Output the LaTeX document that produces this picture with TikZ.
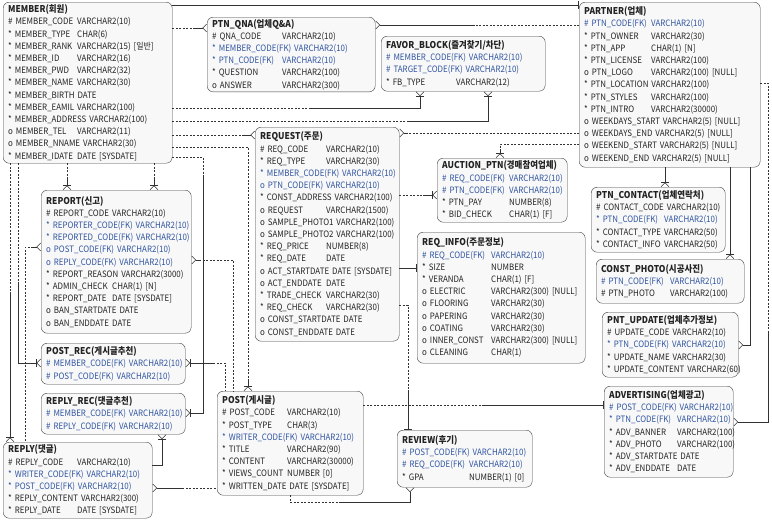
\documentclass[tikz,border=0pt]{standalone}
\usepackage{fontspec}
\setmainfont{Noto Sans CJK KR}[FakeStretch=0.9]
\usetikzlibrary{positioning,arrows.meta}

\definecolor{fkblue}{RGB}{47,84,160}
\definecolor{txtgray}{RGB}{35,35,35}
\definecolor{boxfill}{RGB}{248,248,248}
\definecolor{linegray}{RGB}{50,50,50}

\newlength\tabw
\newlength\fldlen
\newcommand\fld[2]{\mbox{\settowidth{\fldlen}{#1\ }%
  \ifdim\fldlen<\tabw\makebox[\tabw][l]{#1}\else#1\ \fi#2}}
\newcommand\fk[2]{\textcolor{fkblue}{\fld{#1}{#2}}}
\newcommand\tname[1]{{\fontsize{9.4}{12.2}\selectfont\bfseries #1}}

\catcode`\_=12

\begin{document}
\begin{tikzpicture}[x=1pt, y=-1pt,
  tbl/.style={draw=black!75, fill=boxfill, rounded corners=6pt, anchor=north west,
    align=left, inner xsep=5pt, inner ysep=2pt, font=\fontsize{8.8}{12.2}\selectfont, text=txtgray},
  tabcol/.style={execute at begin node={\setlength\tabw{#1}}},
  rel/.style={draw=linegray, line width=0.6pt},
  opt/.style={rel, dash pattern=on 2pt off 1.5pt},
  crow/.style={-{Straight Barb[reversed,length=4pt,width=8pt]}},
  crowbar/.style={-{Bar[width=8pt] Straight Barb[reversed,length=4pt,width=8pt]}},
  one/.style={-{Bar[width=8pt]}}]
\useasboundingbox (0,0) rectangle (772,528);

% tables
\node[tbl, tabcol=69pt, text width=159pt, minimum height=161pt] (member) at (3,2) {\tname{MEMBER(회원)}\\
  \fld{\# MEMBER_CODE}{VARCHAR2(10)}\\
  \fld{* MEMBER_TYPE}{CHAR(6)}\\
  \fld{* MEMBER_RANK}{VARCHAR2(15) [일반]}\\
  \fld{* MEMBER_ID}{VARCHAR2(16)}\\
  \fld{* MEMBER_PWD}{VARCHAR2(32)}\\
  \fld{* MEMBER_NAME}{VARCHAR2(30)}\\
  \fld{* MEMBER_BIRTH}{DATE}\\
  \fld{* MEMBER_EAMIL}{VARCHAR2(100)}\\
  \fld{* MEMBER_ADDRESS}{VARCHAR2(100)}\\
  \fld{o MEMBER_TEL}{VARCHAR2(11)}\\
  \fld{o MEMBER_NNAME}{VARCHAR2(30)}\\
  \fld{* MEMBER_IDATE}{DATE [SYSDATE]}};

\node[tbl, tabcol=70pt, text width=158pt, minimum height=74pt] (ptnqna) at (207,17) {\tname{PTN_QNA(업체Q\&A)}\\
  \fld{\# QNA_CODE}{VARCHAR2(10)}\\
  \fk{* MEMBER_CODE(FK)}{VARCHAR2(10)}\\
  \fk{* PTN_CODE(FK)}{VARCHAR2(10)}\\
  \fld{* QUESTION}{VARCHAR2(100)}\\
  \fld{o ANSWER}{VARCHAR2(300)}};

\node[tbl, tabcol=70pt, text width=154pt, minimum height=55pt] (favor) at (381,36) {\tname{FAVOR_BLOCK(즐겨찾기/차단)}\\
  \fk{\# MEMBER_CODE(FK)}{VARCHAR2(10)}\\
  \fk{\# TARGET_CODE(FK)}{VARCHAR2(10)}\\
  \fld{* FB_TYPE}{VARCHAR2(12)}};

\node[tbl, tabcol=67pt, text width=171pt, minimum height=165pt] (partner) at (579,2) {\tname{PARTNER(업체)}\\
  \fk{\# PTN_CODE(FK)}{VARCHAR2(10)}\\
  \fld{* PTN_OWNER}{VARCHAR2(30)}\\
  \fld{* PTN_APP}{CHAR(1) [N]}\\
  \fld{* PTN_LICENSE}{VARCHAR2(100)}\\
  \fld{o PTN_LOGO}{VARCHAR2(100) [NULL]}\\
  \fld{* PTN_LOCATION}{VARCHAR2(100)}\\
  \fld{* PTN_STYLES}{VARCHAR2(100)}\\
  \fld{* PTN_INTRO}{VARCHAR2(30000)}\\
  \fld{o WEEKDAYS_START}{VARCHAR2(5) [NULL]}\\
  \fld{o WEEKDAYS_END}{VARCHAR2(5) [NULL]}\\
  \fld{o WEEKEND_START}{VARCHAR2(5) [NULL]}\\
  \fld{o WEEKEND_END}{VARCHAR2(5) [NULL]}};

\node[tbl, tabcol=66pt, text width=134pt, minimum height=214pt] (request) at (255,127) {\tname{REQUEST(주문)}\\
  \fld{\# REQ_CODE}{VARCHAR2(10)}\\
  \fld{* REQ_TYPE}{VARCHAR2(30)}\\
  \fk{* MEMBER_CODE(FK)}{VARCHAR2(10)}\\
  \fk{o PTN_CODE(FK)}{VARCHAR2(10)}\\
  \fld{* CONST_ADDRESS}{VARCHAR2(100)}\\
  \fld{o REQUEST}{VARCHAR2(1500)}\\
  \fld{o SAMPLE_PHOTO1}{VARCHAR2(100)}\\
  \fld{o SAMPLE_PHOTO2}{VARCHAR2(100)}\\
  \fld{* REQ_PRICE}{NUMBER(8)}\\
  \fld{* REQ_DATE}{DATE}\\
  \fld{o ACT_STARTDATE}{DATE [SYSDATE]}\\
  \fld{o ACT_ENDDATE}{DATE}\\
  \fld{* TRADE_CHECK}{VARCHAR2(30)}\\
  \fld{* REQ_CHECK}{VARCHAR2(30)}\\
  \fld{o CONST_STARTDATE}{DATE}\\
  \fld{o CONST_ENDDATE}{DATE}};

\node[tbl, tabcol=67pt, text width=120pt, minimum height=64pt] (auction) at (437,158) {\tname{AUCTION_PTN(경매참여업체)}\\
  \fk{\# REQ_CODE(FK)}{VARCHAR2(10)}\\
  \fk{\# PTN_CODE(FK)}{VARCHAR2(10)}\\
  \fld{* PTN_PAY}{NUMBER(8)}\\
  \fld{* BID_CHECK}{CHAR(1) [F]}};

\node[tbl, tabcol=66pt, text width=140pt, minimum height=143pt] (report) at (41,190) {\tname{REPORT(신고)}\\
  \fld{\# REPORT_CODE}{VARCHAR2(10)}\\
  \fk{* REPORTER_CODE(FK)}{VARCHAR2(10)}\\
  \fk{* REPORTED_CODE(FK)}{VARCHAR2(10)}\\
  \fk{o POST_CODE(FK)}{VARCHAR2(10)}\\
  \fk{o REPLY_CODE(FK)}{VARCHAR2(10)}\\
  \fld{* REPORT_REASON}{VARCHAR2(3000)}\\
  \fld{* ADMIN_CHECK}{CHAR(1) [N]}\\
  \fld{* REPORT_DATE}{DATE [SYSDATE]}\\
  \fld{o BAN_STARTDATE}{DATE}\\
  \fld{o BAN_ENDDATE}{DATE}};

\node[tbl, tabcol=69pt, text width=158pt, minimum height=131pt] (reqinfo) at (417,232) {\tname{REQ_INFO(주문정보)}\\
  \fk{\# REQ_CODE(FK)}{VARCHAR2(10)}\\
  \fld{* SIZE}{NUMBER}\\
  \fld{* VERANDA}{CHAR(1) [F]}\\
  \fld{o ELECTRIC}{VARCHAR2(300) [NULL]}\\
  \fld{o FLOORING}{VARCHAR2(30)}\\
  \fld{o PAPERING}{VARCHAR2(30)}\\
  \fld{o COATING}{VARCHAR2(30)}\\
  \fld{o INNER_CONST}{VARCHAR2(300) [NULL]}\\
  \fld{o CLEANING}{CHAR(1)}};

\node[tbl, tabcol=68pt, text width=124pt, minimum height=65pt] (contact) at (591,187) {\tname{PTN_CONTACT(업체연락처)}\\
  \fld{\# CONTACT_CODE}{VARCHAR2(10)}\\
  \fk{* PTN_CODE(FK)}{VARCHAR2(10)}\\
  \fld{* CONTACT_TYPE}{VARCHAR2(50)}\\
  \fld{* CONTACT_INFO}{VARCHAR2(50)}};

\node[tbl, tabcol=69pt, text width=138pt, minimum height=44pt] (constphoto) at (596,259) {\tname{CONST_PHOTO(시공사진)}\\
  \fk{\# PTN_CODE(FK)}{VARCHAR2(10)}\\
  \fld{\# PTN_PHOTO}{VARCHAR2(100)}};

\node[tbl, tabcol=65pt, text width=126pt, minimum height=65pt] (pntupdate) at (602,312) {\tname{PNT_UPDATE(업체추가정보)}\\
  \fld{\# UPDATE_CODE}{VARCHAR2(10)}\\
  \fk{* PTN_CODE(FK)}{VARCHAR2(10)}\\
  \fld{* UPDATE_NAME}{VARCHAR2(30)}\\
  \fld{* UPDATE_CONTENT}{VARCHAR2(60)}};

\node[tbl, tabcol=68pt, text width=119pt, minimum height=91pt] (advert) at (604,386) {\tname{ADVERTISING(업체광고)}\\
  \fk{\# POST_CODE(FK)}{VARCHAR2(10)}\\
  \fk{* PTN_CODE(FK)}{VARCHAR2(10)}\\
  \fld{* ADV_BANNER}{VARCHAR2(100)}\\
  \fld{* ADV_PHOTO}{VARCHAR2(100)}\\
  \fld{* ADV_STARTDATE}{DATE}\\
  \fld{* ADV_ENDDATE}{DATE}};

\node[tbl, tabcol=0pt, text width=134pt, minimum height=41pt] (postrec) at (41,343) {\tname{POST_REC(게시글추천)}\\
  \fk{\# MEMBER_CODE(FK)}{VARCHAR2(10)}\\
  \fk{\# POST_CODE(FK)}{VARCHAR2(10)}};

\node[tbl, tabcol=0pt, text width=134pt, minimum height=41pt] (replyrec) at (41,393) {\tname{REPLY_REC(댓글추천)}\\
  \fk{\# MEMBER_CODE(FK)}{VARCHAR2(10)}\\
  \fk{\# REPLY_CODE(FK)}{VARCHAR2(10)}};

\node[tbl, tabcol=65pt, text width=136pt, minimum height=104pt] (post) at (217,391) {\tname{POST(게시글)}\\
  \fld{\# POST_CODE}{VARCHAR2(10)}\\
  \fld{* POST_TYPE}{CHAR(3)}\\
  \fk{* WRITER_CODE(FK)}{VARCHAR2(10)}\\
  \fld{* TITLE}{VARCHAR2(90)}\\
  \fld{* CONTENT}{VARCHAR2(30000)}\\
  \fld{* VIEWS_COUNT}{NUMBER [0]}\\
  \fld{* WRITTEN_DATE}{DATE [SYSDATE]}};

\node[tbl, tabcol=67pt, text width=125pt, minimum height=57pt] (review) at (397,430) {\tname{REVIEW(후기)}\\
  \fk{\# POST_CODE(FK)}{VARCHAR2(10)}\\
  \fk{\# REQ_CODE(FK)}{VARCHAR2(10)}\\
  \fld{* GPA}{NUMBER(1) [0]}};

\node[tbl, tabcol=69pt, text width=139pt, minimum height=76pt] (reply) at (3,442) {\tname{REPLY(댓글)}\\
  \fld{\# REPLY_CODE}{VARCHAR2(10)}\\
  \fk{* WRITER_CODE(FK)}{VARCHAR2(10)}\\
  \fk{* POST_CODE(FK)}{VARCHAR2(10)}\\
  \fld{* REPLY_CONTENT}{VARCHAR2(300)}\\
  \fld{* REPLY_DATE}{DATE [SYSDATE]}};

% relations of MEMBER
\coordinate (mp) at ([yshift=-3pt]partner.north west);
\draw[rel,one] (mp -| member.east) -- (mp);

\coordinate (mq) at ([yshift=-11pt]ptnqna.north west);
\draw[opt] (mq -| member.east) -- ([xshift=-12pt]mq);
\draw[rel,crow] ([xshift=-12pt]mq) -- (mq);

\coordinate (fb1) at ([xshift=39pt]favor.south west);
\coordinate (fb2) at ([xshift=107pt]favor.south west);
\coordinate (mf1) at ([yshift=-106pt]member.north east);
\coordinate (mf2) at ([yshift=-119pt]member.north east);
\draw[opt] (mf1) -- ([xshift=138pt]mf1);
\draw[rel,crowbar] ([xshift=138pt]mf1) -| (fb1);
\draw[opt] (mf2) -- ([xshift=236pt]mf2);
\draw[rel,crowbar] ([xshift=236pt]mf2) -| (fb2);

\coordinate (mr) at ([yshift=-8pt]request.north west);
\draw[opt] (mr -| member.east) -- ([xshift=-12pt]mr);
\draw[rel,crow] ([xshift=-12pt]mr) -- (mr);

\coordinate (mpo) at ([xshift=31pt]post.north west);
\coordinate (mpy) at ([yshift=-145pt]member.north east);
\draw[opt] (mpy) -| ([yshift=12pt]mpo);
\draw[rel,crowbar] ([yshift=12pt]mpo) -- (mpo);

\coordinate (mrr) at ([yshift=-20pt]replyrec.north east);
\coordinate (mry) at ([yshift=-155pt]member.north east);
\draw[opt] (mry) -| ([xshift=18pt,yshift=238pt]mrr);
\draw[rel,crowbar] ([xshift=18pt,yshift=238pt]mrr) |- (mrr);

\coordinate (mre1) at ([xshift=26pt]report.north west);
\coordinate (mre2) at ([xshift=113pt]report.north west);
\draw[opt] (mre1 |- member.south) -- ([yshift=12pt]mre1);
\draw[rel,crowbar] ([yshift=12pt]mre1) -- (mre1);
\draw[opt] (mre2 |- member.south) -- ([yshift=12pt]mre2);
\draw[rel,crowbar] ([yshift=12pt]mre2) -- (mre2);

\coordinate (mpr) at ([yshift=-20pt]postrec.north west);
\coordinate (mprx) at ([xshift=15pt]member.south west);
\draw[opt] (mprx) -- ([yshift=-120pt]mprx);
\draw[rel,crowbar] ([yshift=-120pt]mprx) |- (mpr);

\coordinate (mrp) at ([xshift=7pt]reply.north west);
\draw[opt] (mrp |- member.south) -- ([yshift=150pt]mrp);
\draw[rel,crowbar] ([yshift=150pt]mrp) -- (mrp);

% relations of PARTNER
\coordinate (qp) at ([yshift=-8pt]ptnqna.north east);
\draw[opt] (qp -| partner.west) -- ([xshift=100pt]qp);
\draw[rel,crow] ([xshift=100pt]qp) -- (qp);

\coordinate (rp) at ([yshift=-6pt]request.north east);
\draw[opt] (rp -| partner.west) -- ([xshift=8pt]rp);
\draw[rel,crow] ([xshift=8pt]rp) -- (rp);

\coordinate (ap) at ([xshift=63pt]auction.north west);
\coordinate (apy) at ([yshift=-142pt]partner.north west);
\draw[opt] (apy) -| ([yshift=8pt]ap);
\draw[rel,crowbar] ([yshift=8pt]ap) -- (ap);

\coordinate (pc) at ([xshift=74pt]contact.north west);
\draw[rel,crowbar] (pc |- partner.south) -- (pc);

\coordinate (pph) at ([xshift=134pt]constphoto.north west);
\draw[rel,crowbar] (pph |- partner.south) -- (pph);

\coordinate (pu) at ([yshift=-33pt]pntupdate.north east);
\coordinate (pux) at ([xshift=12pt]pu);
\draw[rel,crow] (pux |- partner.south) |- (pu);

\coordinate (pav) at ([yshift=-36pt]advert.north east);
\coordinate (pay) at ([yshift=-81pt]partner.north east);
\draw[opt] (pay) -- ([xshift=8pt]pay) -- ([xshift=8pt,yshift=-250pt]pay);
\draw[rel,crow] ([xshift=8pt,yshift=-250pt]pay) |- (pav);

% relations of REQUEST
\coordinate (ra) at ([yshift=-37pt]auction.north west);
\draw[opt] (ra -| request.east) -- ([xshift=-14pt]ra);
\draw[rel,crowbar] ([xshift=-14pt]ra) -- (ra);

\coordinate (ri) at ([yshift=-36pt]reqinfo.north west);
\draw[rel,one] (ri -| request.east) -- (ri);

\coordinate (rv) at ([xshift=11pt]review.north west);
\coordinate (rvy) at ([yshift=-178pt]request.north east);
\draw[opt] (rvy) -| ([yshift=40pt]rv);
\draw[rel,one] ([yshift=40pt]rv) -- (rv);

% relations of POST
\coordinate (pv1) at ([xshift=73pt]post.south west);
\coordinate (pv2) at ([xshift=13pt]review.south west);
\draw[opt] (pv1) |- ([xshift=-70pt,yshift=-15pt]pv2);
\draw[rel,crow] ([xshift=-70pt,yshift=-15pt]pv2) -| (pv2);

\coordinate (pa) at ([yshift=-19pt]advert.north west);
\draw[opt] (pa -| post.east) -- ([xshift=-120pt]pa);
\draw[rel,one] ([xshift=-120pt]pa) -- (pa);

\coordinate (prp) at ([xshift=8pt]post.north west);
\coordinate (prpy) at ([yshift=-20pt]postrec.north east);
\draw[rel,crowbar] ([xshift=28pt]prpy) -- (prpy);
\draw[opt] ([xshift=28pt]prpy) -| (prp);

\coordinate (rpp) at ([yshift=-46pt]reply.north east);
\draw[rel,crow] ([xshift=30pt]rpp) -- (rpp);
\draw[opt] ([xshift=30pt]rpp) -- (rpp -| post.west);

% relations of REPORT and REPLY
\coordinate (rpr) at ([yshift=-57pt]report.north west);
\coordinate (rprx) at ([xshift=22pt]reply.north west);
\draw[rel,crow] ([xshift=-8pt]rpr) -- (rpr);
\draw[opt] ([xshift=-8pt]rpr) -| (rprx);

\coordinate (rpo) at ([yshift=-70pt]report.north east);
\coordinate (rpox) at ([xshift=16pt]post.north west);
\draw[rel,crow] ([xshift=8pt]rpo) -- (rpo);
\draw[opt] ([xshift=8pt]rpo) -| (rpox);

\coordinate (rrp) at ([xshift=121pt]replyrec.south west);
\coordinate (rrpy) at ([yshift=-23pt]reply.north east);
\draw[rel,crowbar] (rrpy) -| (rrp);
\end{tikzpicture}
\end{document}
